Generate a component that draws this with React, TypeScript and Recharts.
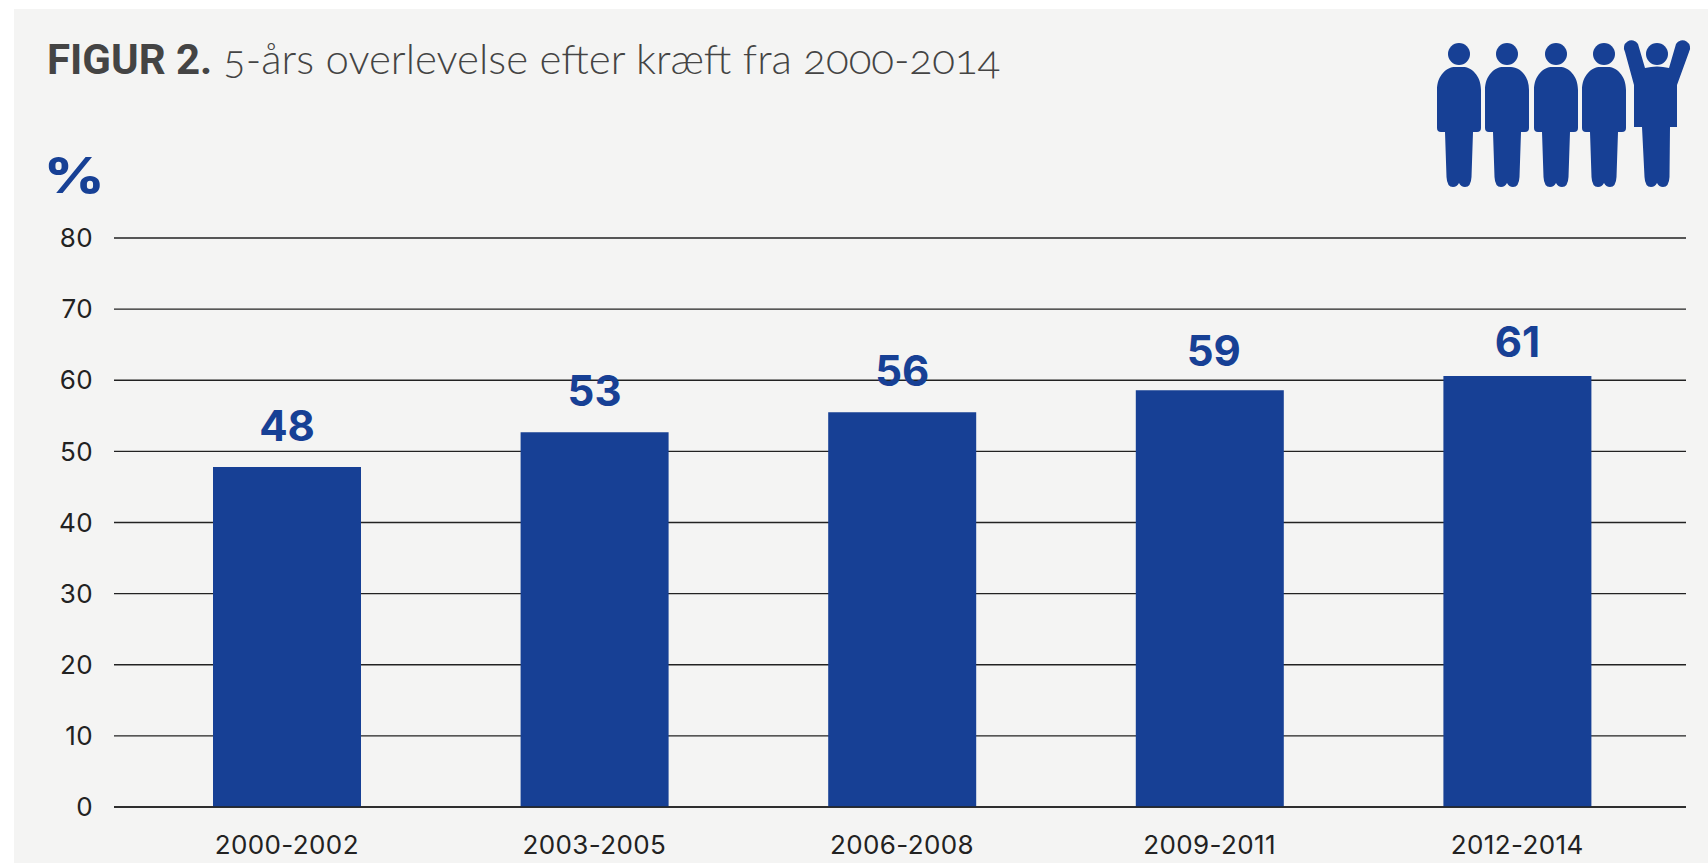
import React from 'react';
import { BarChart, Bar, XAxis, YAxis, CartesianGrid, LabelList } from 'recharts';

const periods = ['2000-2002', '2003-2005', '2006-2008', '2009-2011', '2012-2014'];
const survival = [47.8, 52.7, 55.5, 58.6, 60.6];
const yTicks = [0, 10, 20, 30, 40, 50, 60, 70, 80];
const personCenters = [1459, 1507, 1556, 1604];

const BLUE = '#174095';
const INK = '#222222';

const chartData = periods.map((period, i) => ({ period, survival: survival[i] }));

const standing =
  'M-22 90 C-22 75 -12 67 -4 67 H4 C12 67 22 75 22 90 V128 Q22 132 18 132 H14 L12.5 177 Q12 187 6 187 Q2 187 0 183 Q-2 187 -6 187 Q-12 187 -12.5 177 L-14 132 H-18 Q-22 132 -22 128 Z';
const cheering =
  'M-23 85 L-32 52 A6.5 6.5 0 0 1 -19 44 L-12 68 Q0 65 12 68 L19 44 A6.5 6.5 0 0 1 32 52 L20 85 V127 H13 L12.5 177 Q12 187 6 187 Q2 187 0 183 Q-2 187 -6 187 Q-12 187 -12.5 177 L-15 127 H-23 Z';

const People = () => (
  <svg width={1708} height={863} style={{ position: 'absolute', left: 0, top: 0 }}>
    {personCenters.map(cx => (
      <g key={cx} transform={`translate(${cx},0)`} fill={BLUE}>
        <circle cy={54} r={11} />
        <path d={standing} />
      </g>
    ))}
    <g transform="translate(1657,0)" fill={BLUE}>
      <circle cy={54} r={11} />
      <path d={cheering} />
    </g>
  </svg>
);

const tickStyle = { fontFamily: 'Inter', fontSize: 26, fill: INK, letterSpacing: 0.4 };

// the last two labels sit a little off the others in the original
const ValueLabel = (props: any) => {
  const { x, y, width, index, value } = props;
  const dx = index === 3 ? 4 : 0;
  const dy = index === 3 ? 2 : index === 4 ? 7 : 0;
  return (
    <text
      x={x + width / 2 + dx}
      y={y - 26 + dy}
      textAnchor="middle"
      fontFamily="Inter"
      fontWeight={700}
      fontSize={42}
      fill={BLUE}
    >
      {Math.round(value)}
    </text>
  );
};

export default function App() {
  return (
    <div style={{ position: 'absolute', left: 0, top: 0, width: 1708, height: 863, background: '#fff', overflow: 'hidden' }}>
      <div style={{ position: 'absolute', left: 14, top: 9, width: 1694, height: 854, background: '#f4f4f3' }} />
      <div
        style={{
          position: 'absolute', left: 47, top: 33, whiteSpace: 'nowrap',
          fontFamily: 'Lato', fontSize: 42, color: '#444', lineHeight: '50px',
          fontVariantNumeric: 'oldstyle-nums',
        }}
      >
        <span style={{ fontFamily: 'Roboto', fontWeight: 700, fontSize: 42, fontVariantNumeric: 'normal' }}>FIGUR 2.</span>{' '}
        <span style={{ fontWeight: 300 }}>5-års overlevelse efter kræft fra 2000-2014</span>
      </div>
      <div
        style={{
          position: 'absolute', left: 44, top: 147, fontFamily: 'Inter', fontWeight: 800,
          fontSize: 49, lineHeight: '58px', color: BLUE,
          transform: 'scaleX(1.2)', transformOrigin: 'left center',
        }}
      >
        %
      </div>
      <div style={{ position: 'absolute', left: 0, top: 0 }}>
        <BarChart
          width={1708}
          height={863}
          data={chartData}
          barSize={148}
          margin={{ top: 238, right: 22, bottom: 26, left: 14 }}
        >
          <CartesianGrid vertical={false} stroke={INK} strokeWidth={1.4} />
          <XAxis
            dataKey="period"
            padding={{ left: 19, right: 15 }}
            tickLine={false}
            tickSize={0}
            tickMargin={29}
            axisLine={{ stroke: INK, strokeWidth: 1.4 }}
            interval={0}
            tick={tickStyle}
          />
          <YAxis
            type="number"
            domain={[0, 80]}
            ticks={yTicks}
            width={100}
            axisLine={false}
            tickLine={false}
            tickSize={0}
            tickMargin={21}
            tick={tickStyle}
          />
          <Bar dataKey="survival" fill={BLUE} isAnimationActive={false}>
            <LabelList dataKey="survival" content={ValueLabel} />
          </Bar>
        </BarChart>
      </div>
      <People />
    </div>
  );
}
